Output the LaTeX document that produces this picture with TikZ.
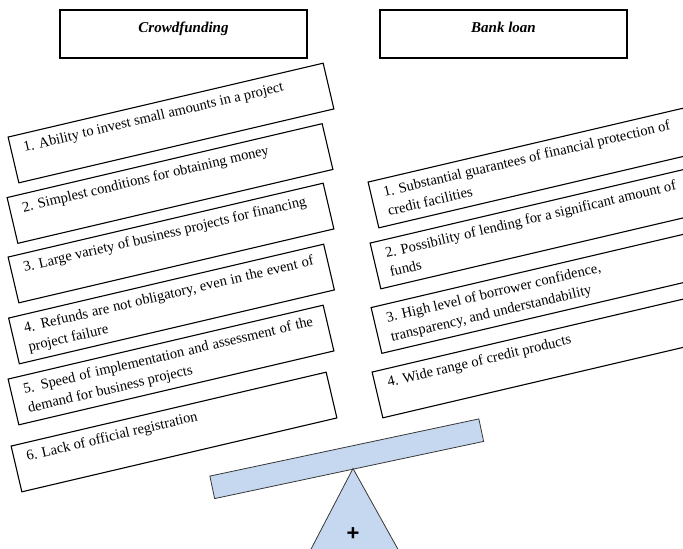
\documentclass[tikz,border=0pt]{standalone}
\usepackage{fontspec}
\setmainfont{Liberation Serif}
\setsansfont{Liberation Sans}
\definecolor{leverfill}{RGB}{197,216,240}
\definecolor{leverline}{RGB}{55,55,55}
\tikzset{
  itembox/.style={draw=black, line width=1.1pt, minimum width=323.6pt,
    minimum height=47pt, inner sep=0pt},
  itemtext/.style={anchor=base west, inner sep=0pt,
    font=\fontsize{14.5}{19.5}\selectfont},
  headbox/.style={draw=black, line width=1.1pt, minimum width=247pt,
    minimum height=48pt, inner sep=0pt},
  headtext/.style={anchor=base, inner sep=0pt,
    font=\fontsize{15}{18}\selectfont\bfseries\itshape},
  lever/.style={draw=leverline, fill=leverfill, line width=0.8pt},
}
% one tilted argument box: name, centre, text lines
\newcommand\argbox[3]{%
  \begin{scope}[shift={#2}, rotate=13.2, transform shape]
    \node[itembox] (#1) at (0,0) {};
    \node[itemtext] (#1-text) at (-149.3,-5.5) {\parbox[t]{310pt}{\raggedright #3}};
  \end{scope}}
\newcommand\fullline[1]{\makebox[297pt][s]{#1}}

\begin{document}
\begin{tikzpicture}[x=1pt, y=-1pt]
  \useasboundingbox (0,0) rectangle (683,549);
  \clip (0,0) rectangle (683,549);

  % column headings
  \node[headbox] (crowd) at (183.5,34) {};
  \node[headtext] (crowd-title) at (183.5,32) {Crowdfunding};
  \node[headbox] (bank) at (503.5,34) {};
  \node[headtext] (bank-title) at (503.5,32) {Bank loan};

  % crowdfunding arguments
  \argbox{c1}{(171,123)}{1. Ability to invest small amounts in a project}
  \argbox{c2}{(170,183.5)}{2. Simplest conditions for obtaining money}
  \argbox{c3}{(171,243)}{3. Large variety of business projects for financing}
  \argbox{c4}{(171.5,304)}{\fullline{4. Refunds are not obligatory, even in the event of}\\project failure}
  \argbox{c5}{(171,365)}{\fullline{5. Speed of implementation and assessment of the}\\demand for business projects}
  \argbox{c6}{(174,432)}{6. Lack of official registration}

  % bank loan arguments
  \argbox{b1}{(531,168)}{1. Substantial guarantees of financial protection of\\credit facilities}
  \argbox{b2}{(533,229)}{2. Possibility of lending for a significant amount of\\funds}
  \argbox{b3}{(534,293.5)}{3. High level of borrower confidence,\\transparency, and understandability}
  \argbox{b4}{(535,358)}{4. Wide range of credit products}

  % balance: beam and pivot
  \node[lever, rotate=12, minimum width=275pt, minimum height=23pt, inner sep=0pt]
    (beam) at (346.75,458.75) {};
  \coordinate (apex) at (353,468.5);
  \coordinate (baseL) at (309.5,552);
  \coordinate (baseR) at (399.5,552);
  \draw[lever] (apex) -- (baseL) -- (baseR) -- cycle;
  \node[inner sep=0pt, font=\fontsize{22}{22}\sffamily\bfseries] (plus) at (353,534.5) {+};
\end{tikzpicture}
\end{document}
